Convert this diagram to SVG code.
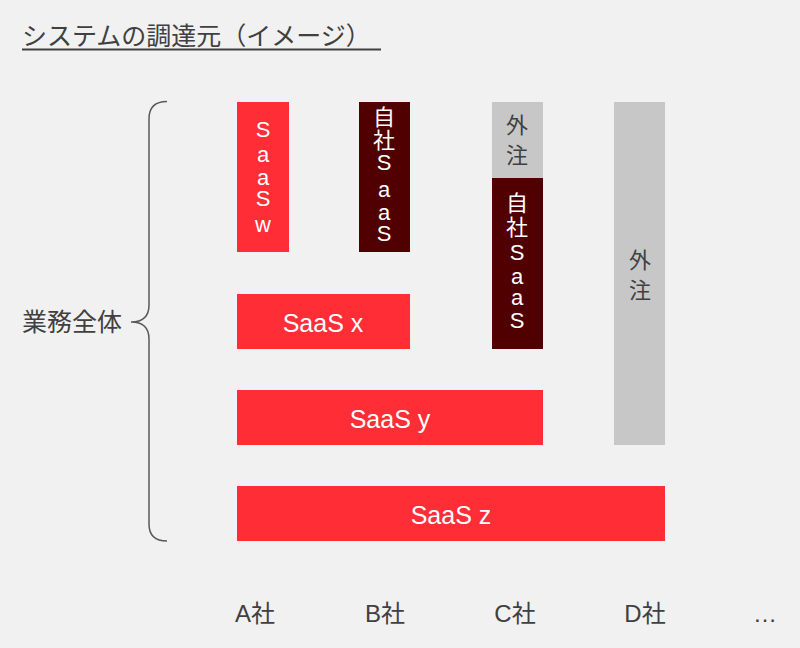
<svg xmlns="http://www.w3.org/2000/svg" width="800" height="648" viewBox="0 0 800 648">
<style>
text{font-family:"Liberation Sans","Noto Sans CJK JP",sans-serif;}
.t{fill:#404040;font-size:25px;}
.lb{fill:#404040;font-size:24px;text-anchor:middle;}
.w{fill:#ffffff;font-size:22px;text-anchor:middle;}
.wl{fill:#ffffff;font-size:25px;text-anchor:middle;}
.g{fill:#404040;font-size:22px;text-anchor:middle;}
.red{fill:#fe2d36;}
.dark{fill:#500000;}
.grey{fill:#c7c7c7;}
.brace{fill:none;stroke:#595959;stroke-width:1.5;}
</style>
<rect width="800" height="648" fill="#f1f1f1"/>
<g id="title">
<text class="t" x="22" y="45">システムの調達元（イメージ）</text>
<line x1="22" y1="49.5" x2="381" y2="49.5" stroke="#404040" stroke-width="2"/>
</g>
<g id="brace-label">
<text class="t" x="22" y="331">業務全体</text>
</g>
<g id="connectors">
<path class="brace" d="M167,101.5 Q149,101.5 149,119 L149,305 Q149,322 131,322 Q149,322 149,339 L149,524 Q149,541 167,541"/>
</g>
<g id="saas-w">
<rect class="red" x="237" y="102" width="52" height="150"/>
<text class="w" x="263"><tspan x="263" y="137">S</tspan><tspan x="263" y="162">a</tspan><tspan x="263" y="185">a</tspan><tspan x="263" y="206">S</tspan><tspan x="263" y="232">w</tspan></text>
</g>
<g id="b-jisha">
<rect class="dark" x="359" y="102" width="51" height="150"/>
<text class="w" x="384"><tspan x="384" y="125">自</tspan><tspan x="384" y="148">社</tspan><tspan x="384" y="170">S</tspan><tspan x="384" y="197">a</tspan><tspan x="384" y="220">a</tspan><tspan x="384" y="241">S</tspan></text>
</g>
<g id="c-gaichu">
<rect class="grey" x="492" y="102" width="51" height="76"/>
<text class="g" x="517"><tspan x="517" y="133">外</tspan><tspan x="517" y="163">注</tspan></text>
</g>
<g id="c-jisha">
<rect class="dark" x="492" y="178" width="51" height="171"/>
<text class="w" x="517"><tspan x="517" y="211">自</tspan><tspan x="517" y="235">社</tspan><tspan x="517" y="260">S</tspan><tspan x="517" y="284">a</tspan><tspan x="517" y="305">a</tspan><tspan x="517" y="328">S</tspan></text>
</g>
<g id="d-gaichu">
<rect class="grey" x="614" y="102" width="51" height="343"/>
<text class="g" x="640"><tspan x="640" y="268">外</tspan><tspan x="640" y="298">注</tspan></text>
</g>
<g id="saas-x">
<rect class="red" x="237" y="294" width="173" height="55"/>
<text class="wl" x="323" y="332">SaaS x</text>
</g>
<g id="saas-y">
<rect class="red" x="237" y="390" width="306" height="55"/>
<text class="wl" x="390" y="428">SaaS y</text>
</g>
<g id="saas-z">
<rect class="red" x="237" y="486" width="428" height="55"/>
<text class="wl" x="451" y="524">SaaS z</text>
</g>
<g id="labels">
<text class="lb" x="255" y="622">A社</text>
<text class="lb" x="385" y="622">B社</text>
<text class="lb" x="515" y="622">C社</text>
<text class="lb" x="645" y="622">D社</text>
<text class="lb" x="765" y="622">…</text>
</g>
</svg>
